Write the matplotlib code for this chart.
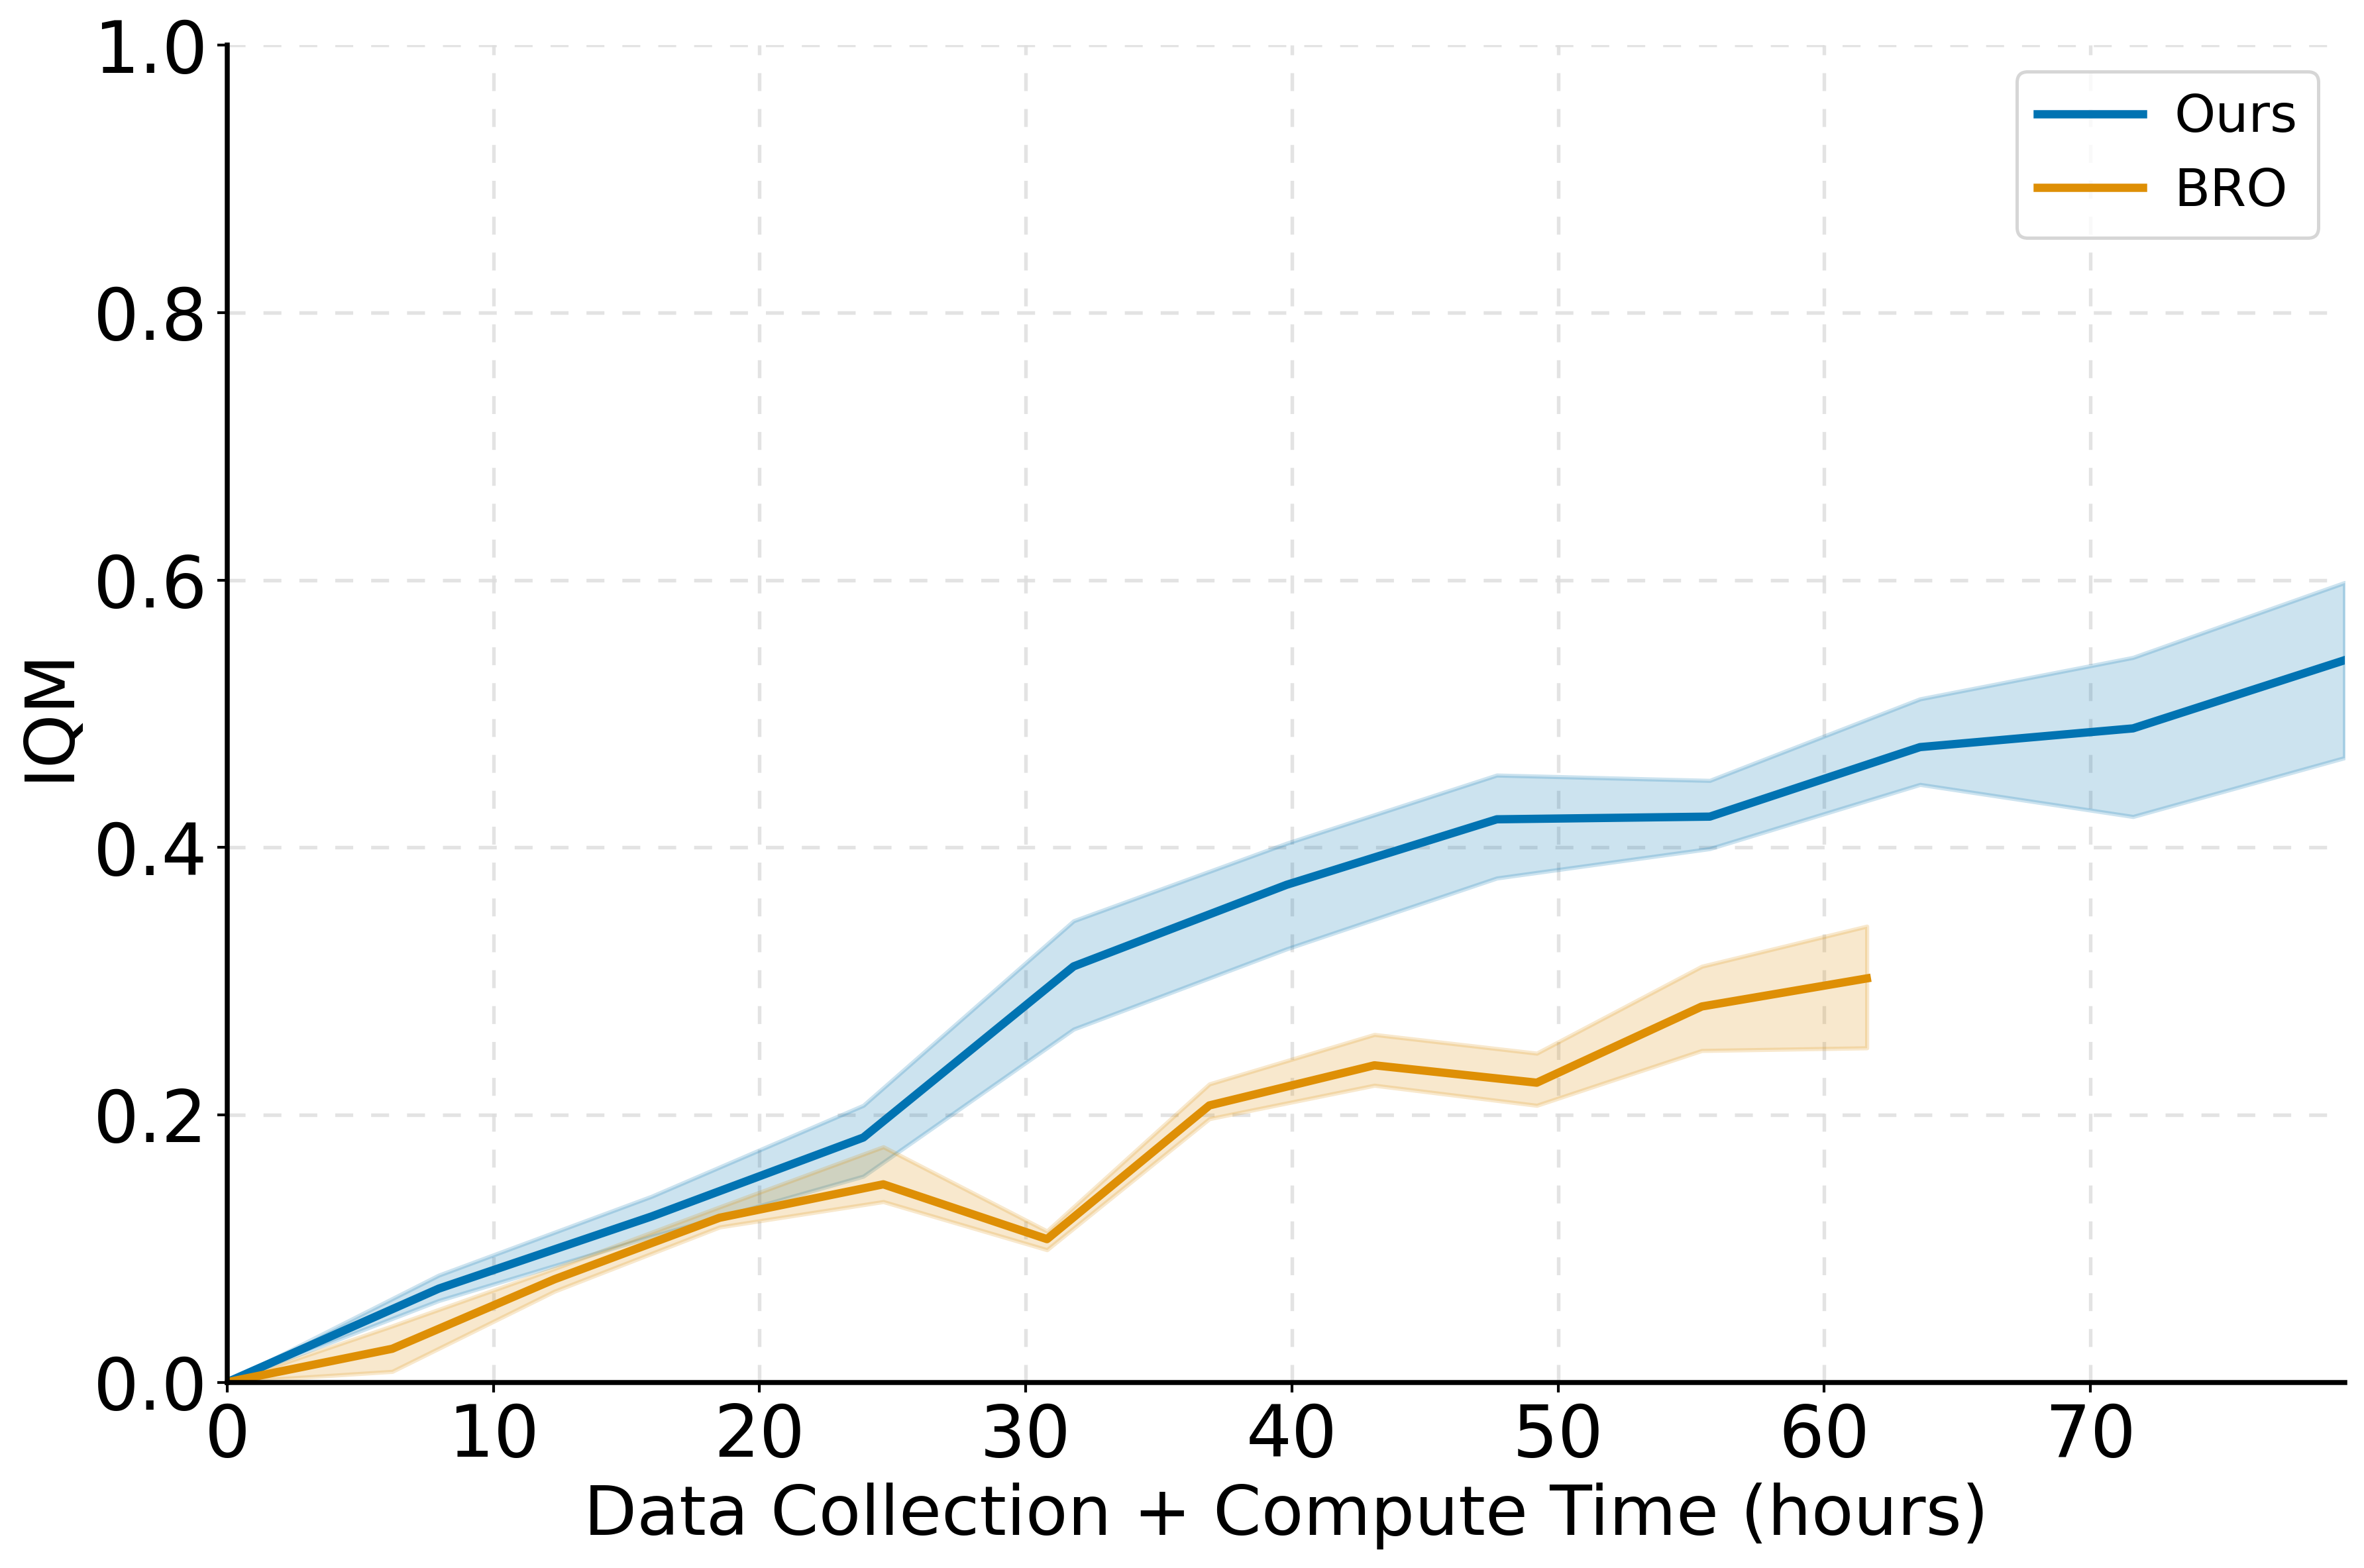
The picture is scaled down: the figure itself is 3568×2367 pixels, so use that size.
import matplotlib
matplotlib.use("Agg")
import matplotlib.pyplot as plt
import numpy as np

# ---- data ----
ours_x = [0.0, 7.95, 15.95, 23.9, 31.8, 39.8, 47.7, 55.7, 63.6, 71.6, 79.55]
ours_y = [0.0, 0.070, 0.124, 0.183, 0.311, 0.372, 0.421, 0.423, 0.475, 0.489, 0.540]
ours_lo = [0.0, 0.061, 0.109, 0.154, 0.264, 0.324, 0.377, 0.399, 0.447, 0.423, 0.467]
ours_hi = [0.0, 0.080, 0.139, 0.207, 0.345, 0.403, 0.454, 0.450, 0.511, 0.542, 0.598]

bro_x = [0.0, 6.2, 12.3, 18.5, 24.65, 30.8, 36.9, 43.1, 49.2, 55.4, 61.6]
bro_y = [0.0, 0.025, 0.077, 0.123, 0.148, 0.107, 0.207, 0.237, 0.224, 0.281, 0.302]
bro_lo = [0.0, 0.008, 0.068, 0.116, 0.135, 0.099, 0.197, 0.222, 0.207, 0.248, 0.250]
bro_hi = [0.0, 0.042, 0.085, 0.131, 0.176, 0.113, 0.223, 0.260, 0.246, 0.311, 0.341]

labels = ["Ours", "BRO"]
colors = ["#0173B2", "#DE8F05"]

x_ticks = [0, 10, 20, 30, 40, 50, 60, 70]
y_ticks = [0.0, 0.2, 0.4, 0.6, 0.8, 1.0]

plt.rcParams['font.family'] = ['DejaVu Sans']

fig = plt.figure(figsize=(3568 / 300, 2367 / 300), dpi=300)
ax = fig.add_axes([0.0961, 0.1185, 0.8957, 0.8527])

for xs, ys, lo, hi, lab, c in [
    (ours_x, ours_y, ours_lo, ours_hi, labels[0], colors[0]),
    (bro_x, bro_y, bro_lo, bro_hi, labels[1], colors[1]),
]:
    ax.fill_between(xs, lo, hi, color=c, alpha=0.2, linewidth=1.5)
    ax.plot(xs, ys, color=c, linewidth=3.0, label=lab)

ax.set_xlim(0, 79.55)
ax.set_ylim(0, 1.0)
ax.set_xticks(x_ticks)
ax.set_yticks(y_ticks)
ax.set_yticklabels([f"{v:.1f}" for v in y_ticks])

ax.grid(True, linestyle=(0, (5, 5)), color="#dddddd", linewidth=1.3, alpha=0.8)
ax.set_axisbelow(True)

for s in ["top", "right"]:
    ax.spines[s].set_visible(False)
for s in ["left", "bottom"]:
    ax.spines[s].set_linewidth(1.8)

ax.tick_params(axis="both", labelsize=26, length=3.5, width=1.0)
ax.set_xlabel("Data Collection + Compute Time (hours)", fontsize=25, labelpad=4)
ax.set_ylabel("IQM", fontsize=25, labelpad=4)

leg = ax.legend(loc="upper right", fontsize=19, frameon=True, fancybox=True,
                framealpha=0.8, edgecolor="#cccccc", borderpad=0.4,
                handlelength=2.0, handletextpad=0.6, labelspacing=0.45,
                bbox_to_anchor=(1.0, 1.0))
leg.get_frame().set_linewidth(1.2)

fig.savefig("out.png", dpi=300)
